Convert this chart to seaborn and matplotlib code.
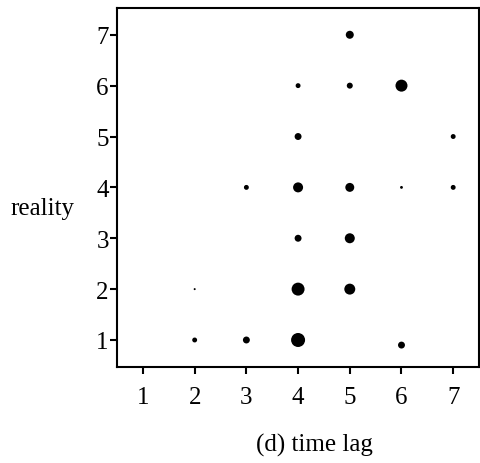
import matplotlib
matplotlib.use("Agg")
import matplotlib.pyplot as plt
import seaborn as sns
import pandas as pd

# data: time lag (x), reality (y), relative dot weight (area ~ count)
time_lag = [5, 4, 5, 6, 4, 7, 3, 4, 5, 6, 7, 4, 5, 2, 4, 5, 2, 3, 4, 6]
reality  = [7, 6, 6, 6, 5, 5, 4, 4, 4, 4, 4, 3, 3, 2, 2, 2, 1, 1, 1, 0.9]
weight   = [16, 6, 9, 36, 12, 6, 6, 25, 20, 2, 6, 12, 25, 1, 42, 30, 6, 12, 49, 12]
x_ticks = [1, 2, 3, 4, 5, 6, 7]
y_ticks = [1, 2, 3, 4, 5, 6, 7]

df = pd.DataFrame({"time lag": time_lag, "reality": reality, "w": weight})

sns.set_theme(style="white")
plt.rcParams["font.family"] = ["Liberation Serif", "DejaVu Serif"]

fig = plt.figure(figsize=(4.8, 4.64), dpi=100)
ax = fig.add_axes([0.244, 0.207, 0.754, 0.774])

sns.scatterplot(data=df, x="time lag", y="reality", size="w",
                sizes=(2.1, 101.6), size_norm=(1, 49), color="black",
                edgecolor="none", legend=False, ax=ax)

ax.set_xlim(0.5, 7.5)
ax.set_ylim(0.47, 7.53)
ax.set_xticks(x_ticks)
ax.set_yticks(y_ticks)
ax.tick_params(axis="x", direction="out", length=5, width=1.5, pad=8.5,
               labelsize=18, colors="black", bottom=True)
ax.tick_params(axis="y", direction="out", length=5, width=1.5, pad=1,
               labelsize=18, colors="black", left=True)
for sp in ax.spines.values():
    sp.set_visible(True)
    sp.set_color("black")
    sp.set_linewidth(1.5)

ax.set_xlabel("(d) time lag", fontsize=18, color="black", va="center")
ax.xaxis.set_label_coords(0.545, -0.215)
ax.set_ylabel("reality", fontsize=18, color="black", rotation=0,
              ha="center", va="center")
ax.yaxis.set_label_coords(-0.206, 0.443)

fig.savefig("out.png", dpi=100)
